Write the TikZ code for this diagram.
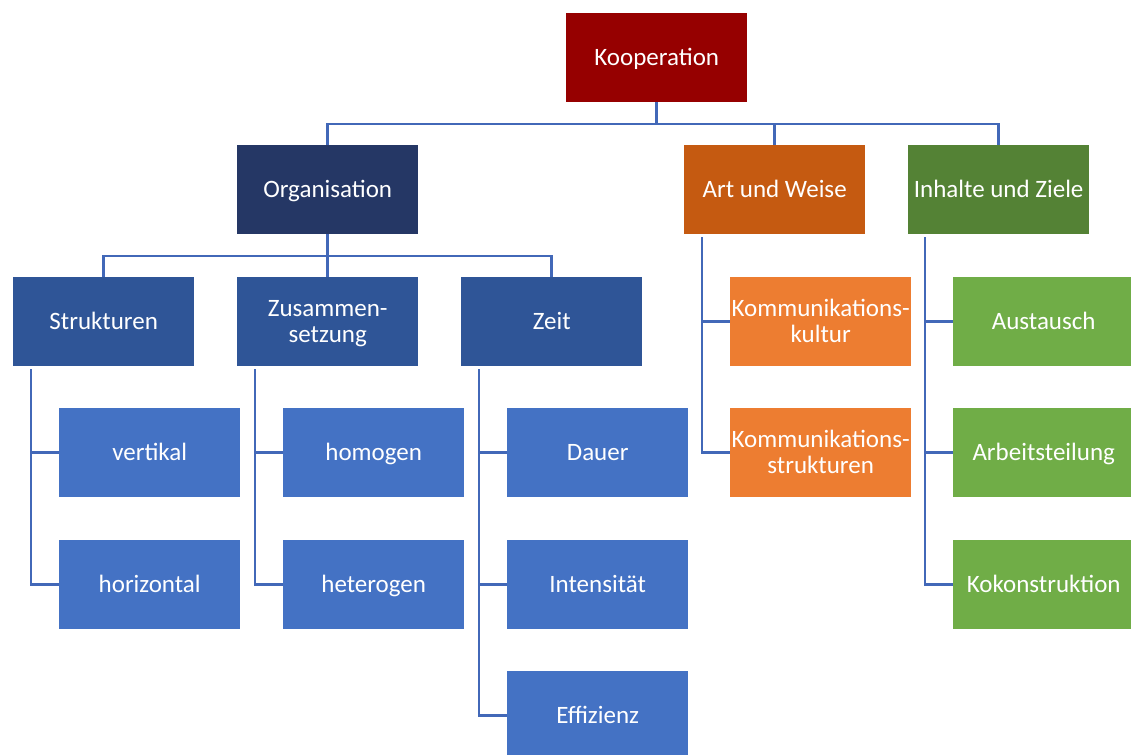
\documentclass[tikz,border=0pt]{standalone}
\usepackage{fontspec}
\setmainfont{Carlito}
\definecolor{cKoop}{RGB}{150,0,0}
\definecolor{cOrg}{RGB}{37,55,101}
\definecolor{cBlueA}{RGB}{47,85,151}
\definecolor{cBlueB}{RGB}{68,114,196}
\definecolor{cArt}{RGB}{197,90,17}
\definecolor{cKom}{RGB}{237,125,49}
\definecolor{cInh}{RGB}{84,130,53}
\definecolor{cGreen}{RGB}{112,173,71}
\definecolor{cLine}{RGB}{66,104,184}
\newcommand{\lnstrut}{\rule[-4.6pt]{0pt}{24.6pt}}
\begin{document}
\begin{tikzpicture}[x=1pt,y=-1pt,
  box/.style={anchor=north west, minimum width=181pt, minimum height=89pt, inner sep=0pt,
    text=white, align=center, font=\fontsize{25}{25.5}\selectfont},
  conn/.style={draw=cLine, line width=2.6pt}]
\clip (0,0) rectangle (1131,754);
\fill[white] (0,0) rectangle (1131,754);
% level 0
\node[box, fill=cKoop] (koop) at (566,13) {\lnstrut Kooperation};
% level 1
\node[box, fill=cOrg] (org) at (237,145) {\lnstrut Organisation};
\node[box, fill=cArt] (art) at (684,145) {\lnstrut Art und Weise};
\node[box, fill=cInh] (inh) at (908,145) {\lnstrut Inhalte und Ziele};
% level 2 (Organisation)
\node[box, fill=cBlueA] (str) at (13,277) {\lnstrut Strukturen};
\node[box, fill=cBlueA] (zus) at (237,277) {\lnstrut Zusammen-\\\lnstrut setzung};
\node[box, fill=cBlueA] (zeit) at (461,277) {\lnstrut Zeit};
% leaves
\node[box, fill=cBlueB] (vert) at (59,408) {\lnstrut vertikal};
\node[box, fill=cBlueB] (hori) at (59,540) {\lnstrut horizontal};
\node[box, fill=cBlueB] (homo) at (283,408) {\lnstrut homogen};
\node[box, fill=cBlueB] (hete) at (283,540) {\lnstrut heterogen};
\node[box, fill=cBlueB] (dauer) at (507,408) {\lnstrut Dauer};
\node[box, fill=cBlueB] (inten) at (507,540) {\lnstrut Intensität};
\node[box, fill=cBlueB] (effiz) at (507,671) {\lnstrut Effizienz};
\node[box, fill=cKom] (kkul) at (730,277) {\lnstrut Kommunikations-\\\lnstrut kultur};
\node[box, fill=cKom] (kstr) at (730,408) {\lnstrut Kommunikations-\\\lnstrut strukturen};
\node[box, fill=cGreen] (aust) at (953,277) {\lnstrut Austausch};
\node[box, fill=cGreen] (arbt) at (953,408) {\lnstrut Arbeitsteilung};
\node[box, fill=cGreen] (kokon) at (953,540) {\lnstrut Kokonstruktion};
% connectors level 0 -> 1
\draw[conn] (koop.south) -- ++(0,22);
\draw[conn] (org.north) -- ++(0,-21) -| (inh.north);
\draw[conn] (art.north) -- ++(0,-21);
% Organisation -> level 2
\draw[conn] (org.south) -- ++(0,22);
\draw[conn] (str.north) -- ++(0,-21) -| (zeit.north);
\draw[conn] (zus.north) -- ++(0,-21);
% side branches
\draw[conn] ([xshift=18pt,yshift=-3pt]str.south west) |- (vert.west);
\draw[conn] ([xshift=18pt,yshift=-3pt]str.south west) |- (hori.west);
\draw[conn] ([xshift=18pt,yshift=-3pt]zus.south west) |- (homo.west);
\draw[conn] ([xshift=18pt,yshift=-3pt]zus.south west) |- (hete.west);
\draw[conn] ([xshift=18pt,yshift=-3pt]zeit.south west) |- (dauer.west);
\draw[conn] ([xshift=18pt,yshift=-3pt]zeit.south west) |- (inten.west);
\draw[conn] ([xshift=18pt,yshift=-3pt]zeit.south west) |- (effiz.west);
\draw[conn] ([xshift=18pt,yshift=-3pt]art.south west) |- (kkul.west);
\draw[conn] ([xshift=18pt,yshift=-3pt]art.south west) |- (kstr.west);
\draw[conn] ([xshift=17pt,yshift=-3pt]inh.south west) |- (aust.west);
\draw[conn] ([xshift=17pt,yshift=-3pt]inh.south west) |- (arbt.west);
\draw[conn] ([xshift=17pt,yshift=-3pt]inh.south west) |- (kokon.west);
\end{tikzpicture}
\end{document}
